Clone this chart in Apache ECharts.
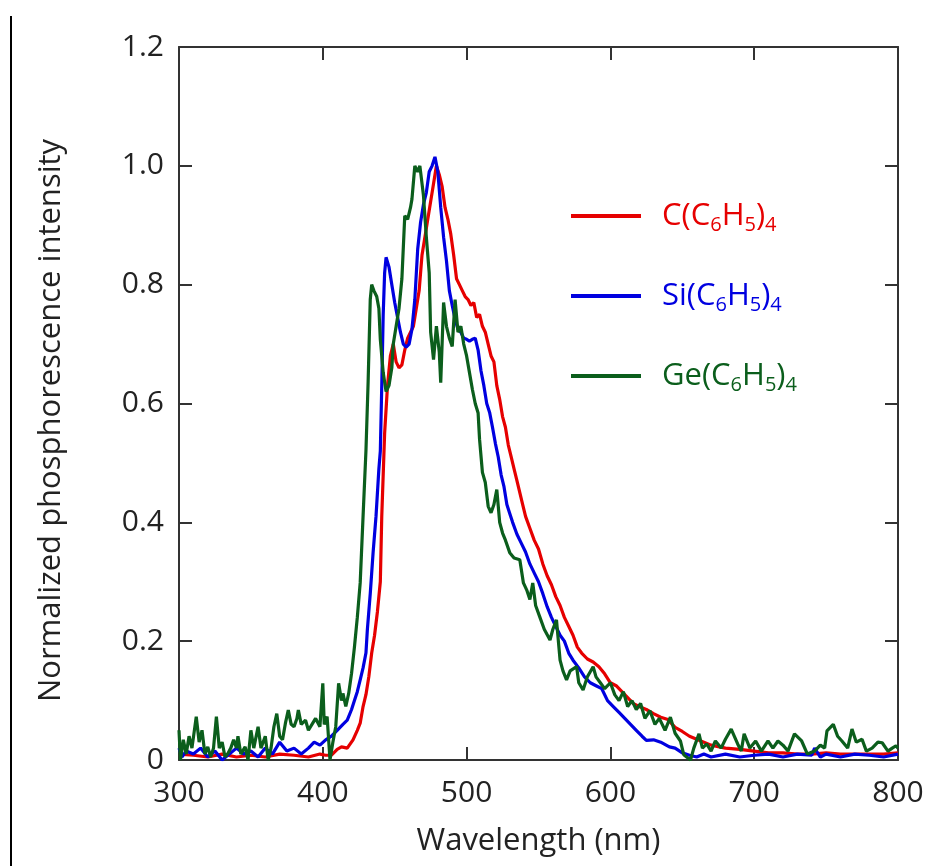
<!DOCTYPE html>
<html>
<head>
<meta charset="utf-8">
<script src="https://cdn.jsdelivr.net/npm/echarts@6/dist/echarts.min.js"></script>
<style>
html,body{margin:0;padding:0;background:#fff;}
#chart{width:929px;height:866px;}
</style>
</head>
<body>
<div id="chart"></div>
<script>
// ---- Data ----
const seriesNames = ['C(C6H5)4', 'Si(C6H5)4', 'Ge(C6H5)4'];
const xTicks = [300, 400, 500, 600, 700, 800];
const yTicks = [0, 0.2, 0.4, 0.6, 0.8, 1.0, 1.2];

const redWl = [300,310,320,330,340,350,360,370,380,390,398,402,406,410,413,417,421,424,426,428,430,432,434,436,438,440,441,443,445,447,449,451,453,455,457,459,461,463,465,467,469,471,473,475,477,479,481,483,485,487,489,491,493,495,497,499,501,503,505,507,509,511,513,515,517,519,521,523,525,527,529,531,533,535,537,539,541,544,547,550,553,556,559,562,565,568,571,574,577,580,584,588,592,596,600,604,608,612,616,620,625,630,635,640,645,650,655,660,665,670,680,690,700,710,720,730,740,750,760,770,780,790,800];
const redVal = [0.01,0.008,0.005,0.01,0.005,0.008,0.005,0.01,0.008,0.005,0.01,0.008,0.008,0.018,0.022,0.02,0.034,0.05,0.062,0.09,0.11,0.14,0.18,0.21,0.25,0.30,0.41,0.55,0.63,0.68,0.70,0.67,0.66,0.665,0.69,0.71,0.72,0.73,0.76,0.79,0.85,0.88,0.91,0.94,0.97,1.0,0.985,0.965,0.93,0.91,0.885,0.85,0.81,0.80,0.79,0.78,0.775,0.765,0.77,0.745,0.75,0.73,0.72,0.70,0.68,0.67,0.63,0.607,0.578,0.56,0.53,0.51,0.49,0.47,0.45,0.43,0.41,0.39,0.37,0.355,0.33,0.31,0.295,0.275,0.26,0.24,0.225,0.21,0.19,0.18,0.17,0.165,0.157,0.145,0.13,0.125,0.115,0.105,0.095,0.09,0.085,0.078,0.072,0.068,0.055,0.048,0.04,0.035,0.03,0.025,0.02,0.018,0.015,0.012,0.012,0.01,0.01,0.012,0.01,0.01,0.01,0.01,0.012];

const blueWl = [300,302,305,310,315,320,325,330,335,340,345,350,355,360,365,370,375,380,385,390,394,398,402,406,410,414,417,420,422,424,426,428,430,431,433,435,437,439,440,441,442,443,444,446,448,450,452,454,456,458,460,462,464,466,468,470,472,474,476,478,480,482,484,486,488,490,492,494,496,498,500,502,504,506,508,510,512,514,516,518,520,522,524,526,528,530,532,535,538,541,544,547,550,553,556,559,562,565,568,571,574,578,582,586,590,594,598,602,606,610,614,618,622,625,630,635,641,645,650,655,660,665,670,680,690,700,710,720,730,740,742,746,750,760,770,780,790,800];
const blueVal = [0.02,0.005,0.015,0.01,0.02,0.005,0.015,0.0,0.01,0.02,0.01,0.015,0.005,0.02,0.01,0.03,0.015,0.02,0.01,0.02,0.03,0.025,0.034,0.04,0.05,0.06,0.067,0.085,0.10,0.115,0.135,0.155,0.18,0.22,0.28,0.35,0.41,0.49,0.52,0.63,0.75,0.82,0.846,0.83,0.80,0.77,0.745,0.72,0.70,0.695,0.70,0.725,0.775,0.86,0.905,0.935,0.955,0.99,1.0,1.015,0.99,0.93,0.88,0.84,0.79,0.765,0.742,0.725,0.72,0.71,0.708,0.705,0.708,0.71,0.69,0.655,0.63,0.60,0.585,0.56,0.533,0.51,0.48,0.46,0.43,0.415,0.40,0.38,0.365,0.35,0.33,0.315,0.30,0.28,0.258,0.24,0.225,0.21,0.20,0.18,0.168,0.155,0.14,0.13,0.125,0.12,0.10,0.09,0.08,0.07,0.06,0.05,0.04,0.033,0.034,0.03,0.022,0.02,0.012,0.008,0.005,0.01,0.005,0.01,0.005,0.008,0.01,0.005,0.01,0.008,0.02,0.005,0.01,0.005,0.01,0.008,0.005,0.01];

const greenWl = [300,301,303,305,307,309,312,314,316,318,320,322,324,326,328,330,332,334,336,338,340,341,343,346,348,350,352,355,357,360,362,364,366,368,370,372,374,376,378,380,382,383,385,388,390,393,395,398,400,401,403,405,407,409,411,413,414,416,418,420,422,424,426,428,430,431.5,433,434,435.5,437.5,439,440,442,444,446,448,449,451,453,455,457,459,461,462,464,466,467.5,469,470,472,474,475,477,479,481,482,484,486,488,490,492,494,496,498,500,502,504,506,508,509,511,513,515,517,519,521,523,525,527,530,533,537,539.5,542,544,546,548,551,554,558,560,562.5,565,567,569.5,572,576.5,578,581,584,588,590,593,596,600,603,606,609,612,615,618,621,624,627.5,631,634,638,641.7,645,648.7,651,655.7,658,661.6,664,667,670,673,677,680,684,688.5,691,693,697,701,705,709.6,713,716.5,720,723.5,728,733,737,742,746,749,750.6,755,758,761,765,768,771,775,778,782,786,789,793,796,798.6,800];
const greenVal = [0.05,0.0,0.034,0.01,0.04,0.02,0.073,0.03,0.05,0.01,0.022,0.005,0.02,0.073,0.02,0.03,0.005,0.011,0.02,0.034,0.02,0.04,0.01,0.022,0.0,0.05,0.02,0.056,0.02,0.04,0.0,0.02,0.056,0.078,0.04,0.034,0.062,0.084,0.06,0.056,0.07,0.084,0.06,0.067,0.05,0.062,0.07,0.056,0.129,0.06,0.073,0.0,0.03,0.056,0.129,0.10,0.112,0.09,0.112,0.146,0.19,0.24,0.298,0.41,0.52,0.635,0.775,0.80,0.79,0.78,0.76,0.708,0.652,0.62,0.63,0.66,0.70,0.73,0.76,0.81,0.916,0.91,0.93,0.944,1.0,0.99,1.0,0.97,0.95,0.88,0.82,0.72,0.674,0.73,0.686,0.635,0.77,0.73,0.71,0.696,0.775,0.72,0.73,0.70,0.68,0.652,0.624,0.60,0.584,0.54,0.484,0.467,0.427,0.416,0.43,0.455,0.40,0.382,0.37,0.349,0.34,0.337,0.298,0.285,0.27,0.298,0.26,0.24,0.22,0.202,0.22,0.236,0.168,0.15,0.135,0.15,0.157,0.13,0.118,0.14,0.157,0.14,0.13,0.12,0.13,0.11,0.10,0.115,0.09,0.10,0.085,0.095,0.07,0.083,0.06,0.07,0.05,0.072,0.045,0.032,0.009,0.0,0.02,0.044,0.02,0.027,0.015,0.032,0.02,0.035,0.052,0.027,0.015,0.044,0.02,0.032,0.015,0.032,0.02,0.032,0.025,0.015,0.044,0.032,0.01,0.015,0.025,0.02,0.049,0.06,0.04,0.032,0.02,0.052,0.03,0.035,0.015,0.02,0.03,0.029,0.015,0.02,0.024,0.02];

const colors = ['#e60000', '#0000e0', '#0b5e1c'];

// ---- Chart ----
const FONT = '"Open Sans", "Noto Sans", sans-serif';
const chart = echarts.init(document.getElementById('chart'), null, {renderer: 'canvas'});

function zip(a, b) { return a.map((x, i) => [x, b[i]]); }
function fmtName(name) {
  return '{g| }' + name.replace(/([^0-9]+)|([0-9]+)/g, (m, a, b) => a ? '{n|' + a + '}' : '{s|' + b + '}');
}

const axisLineStyle = {color: '#333', width: 2};
const tickStyle = {color: '#333', width: 2};

const option = {
  animation: false,
  backgroundColor: '#fff',
  grid: {left: 179, right: 31, top: 47, bottom: 106, containLabel: false, outerBoundsMode: 'none'},
  xAxis: [{
    type: 'value', min: xTicks[0], max: xTicks[xTicks.length - 1], interval: 100,
    position: 'bottom',
    name: 'Wavelength (nm)', nameLocation: 'middle', nameGap: 66,
    nameTextStyle: {fontFamily: FONT, fontSize: 31, color: '#222'},
    axisLine: {show: true, onZero: false, lineStyle: axisLineStyle},
    axisTick: {show: true, inside: true, length: 13, lineStyle: tickStyle},
    axisLabel: {fontFamily: FONT, fontSize: 30, color: '#222', margin: 18},
    splitLine: {show: false}
  }, {
    type: 'value', min: xTicks[0], max: xTicks[xTicks.length - 1], interval: 100,
    position: 'top',
    axisLine: {show: true, onZero: false, lineStyle: axisLineStyle},
    axisTick: {show: true, inside: true, length: 13, lineStyle: tickStyle},
    axisLabel: {show: false},
    splitLine: {show: false}
  }],
  yAxis: [{
    type: 'value', min: yTicks[0], max: yTicks[yTicks.length - 1], interval: 0.2,
    position: 'left',
    name: 'Normalized phosphorescence intensity', nameLocation: 'middle', nameGap: 112,
    nameTextStyle: {fontFamily: FONT, fontSize: 31, color: '#222', padding: [0, 34, 0, 0]},
    axisLine: {show: true, onZero: false, lineStyle: axisLineStyle},
    axisTick: {show: true, inside: true, length: 13, lineStyle: tickStyle},
    axisLabel: {fontFamily: FONT, fontSize: 30, color: '#222', margin: 15,
      formatter: v => (v === 0 ? '0' : v.toFixed(1))},
    splitLine: {show: false}
  }, {
    type: 'value', min: yTicks[0], max: yTicks[yTicks.length - 1], interval: 0.2,
    position: 'right',
    axisLine: {show: true, onZero: false, lineStyle: axisLineStyle},
    axisTick: {show: true, inside: true, length: 13, lineStyle: tickStyle},
    axisLabel: {show: false},
    splitLine: {show: false}
  }],
  legend: {
    orient: 'vertical', left: 571, top: 197, itemGap: 42, padding: 0,
    icon: 'rect', itemWidth: 70, itemHeight: 4,
    selectedMode: false,
    formatter: fmtName,
    textStyle: {
      fontFamily: FONT, fontSize: 31,
      rich: {
        g: {width: 16, fontSize: 31, lineHeight: 40},
        n: {fontFamily: FONT, fontSize: 31, lineHeight: 40},
        s: {fontFamily: FONT, fontSize: 20, lineHeight: 20, padding: [18, 0, 0, 0]}
      }
    },
    data: seriesNames.map((n, i) => ({name: n, itemStyle: {color: colors[i]}, textStyle: {color: colors[i]}}))
  },
  graphic: [{
    type: 'line', shape: {x1: 11, y1: 16, x2: 11, y2: 866},
    style: {stroke: '#000', lineWidth: 2}, silent: true
  }],
  series: [
    {name: seriesNames[0], type: 'line', data: zip(redWl, redVal), color: colors[0]},
    {name: seriesNames[1], type: 'line', data: zip(blueWl, blueVal), color: colors[1]},
    {name: seriesNames[2], type: 'line', data: zip(greenWl, greenVal), color: colors[2]}
  ].map(s => Object.assign(s, {showSymbol: false, symbol: 'none', lineStyle: {width: 3.2, color: s.color}, itemStyle: {color: s.color}, clip: true}))
};
chart.setOption(option);
</script>
</body>
</html>
